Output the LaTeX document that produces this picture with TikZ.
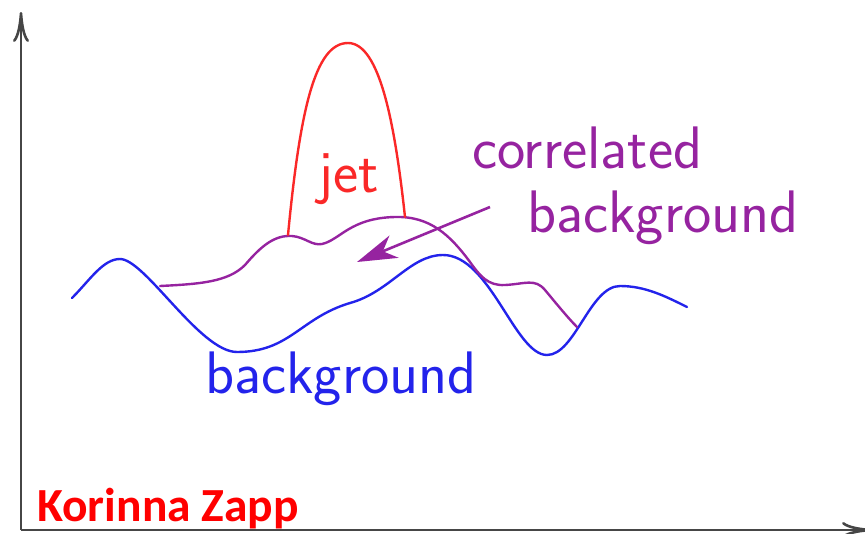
\documentclass[tikz,border=0pt]{standalone}
\usepackage{fontspec}
\usepackage{tikz}
\usetikzlibrary{arrows.meta}
\newfontfamily\namefont{Carlito}
\definecolor{jetred}{RGB}{250,40,40}
\definecolor{bgblue}{RGB}{35,35,235}
\definecolor{corrpurple}{RGB}{150,35,160}
\definecolor{axisgray}{RGB}{70,70,70}

\begin{document}
\begin{tikzpicture}[x=1pt,y=-1pt,font=\sffamily\fontsize{60}{64}\selectfont,
    curve/.style={line width=2.4pt,line join=round,line cap=round},
    lbl/.style={anchor=base west,inner sep=0pt}]
  \useasboundingbox (0,0) rectangle (865,533);
  % ---- axes ----
  \draw[axisgray,line width=2.6pt,-{To[length=30pt,width=16pt]}] (21,530) -- (21,12);
  \draw[axisgray,line width=2.6pt,-{To[length=30pt,width=16pt]}] (21,530) -- (872,530);
  % ---- background ----
  \draw[curve,bgblue] (72,298) .. controls (90,280) and (103,259) .. (120,259)
      .. controls (145,259) and (200,352) .. (237,352)
      .. controls (290,352) and (300,318) .. (350,303)
      .. controls (390,292) and (410,255) .. (443,255)
      .. controls (490,255) and (515,355) .. (547,355)
      .. controls (575,355) and (590,286) .. (620,286)
      .. controls (645,286) and (665,296) .. (687,307);
  % ---- correlated background ----
  \draw[curve,corrpurple] (160,286) .. controls (200,284) and (228,282) .. (245,265)
      .. controls (262,245) and (275,235) .. (292,236)
      .. controls (305,237) and (312,246) .. (322,244)
      .. controls (340,240) and (350,218) .. (395,217)
      .. controls (430,216) and (450,235) .. (470,262)
      .. controls (480,276) and (488,286) .. (505,285)
      .. controls (525,284) and (535,278) .. (545,290)
      .. controls (555,302) and (568,318) .. (577,327);
  % ---- jet ----
  \draw[curve,jetred] (288,235) .. controls (300,110) and (315,43) .. (348,43)
      .. controls (380,43) and (395,125) .. (405,217);
  % ---- labels ----
  \node[lbl,text=jetred] (jetlbl) at (318,192) {jet};
  \node[lbl,text=corrpurple] (corrlbl) at (472,168) {correlated};
  \node[lbl,text=corrpurple] (corrbglbl) at (527,232) {background};
  \node[lbl,text=bgblue] (bglbl) at (205,393) {background};
  \node[lbl,text=red,font=\namefont\bfseries\fontsize{47.5}{50}\selectfont] (author) at (37,521) {Korinna Zapp};
  % ---- arrow ----
  \coordinate (arrstart) at (490,207);
  \coordinate (arrtip) at (357,262);
  \draw[corrpurple,line width=2.6pt,-{Stealth[length=40pt,width=24pt,inset=12pt]}] (arrstart) -- (arrtip);
\end{tikzpicture}
\end{document}
